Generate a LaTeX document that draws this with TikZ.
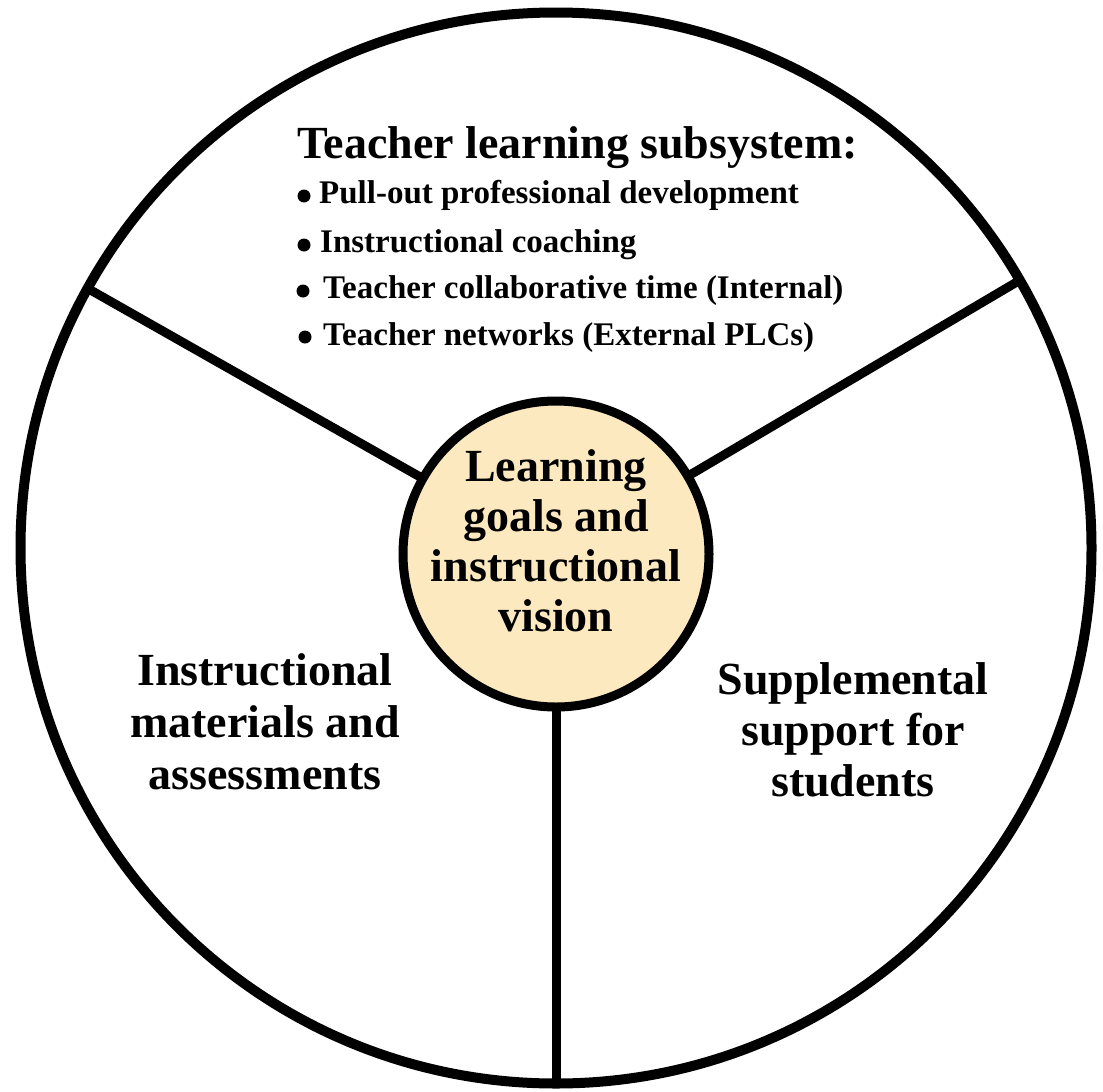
\documentclass[tikz,border=0pt]{standalone}
\usepackage{fontspec}
\setmainfont{Liberation Serif}
\definecolor{goalfill}{RGB}{252,233,192}
\begin{document}
\begin{tikzpicture}[x=1pt,y=-1pt,
  ring/.style={circle, draw, line width=10pt, minimum size=1071pt, inner sep=0pt, outer sep=0pt},
  hub/.style={circle, draw, fill=goalfill, line width=9pt, minimum size=306pt, inner sep=0pt},
  spoke/.style={line width=9pt},
  bigtext/.style={font=\bfseries\fontsize{46}{50}\selectfont, align=center, inner sep=0pt},
  itemtext/.style={font=\bfseries\fontsize{33}{36}\selectfont, inner sep=0pt, anchor=base west},
  titletext/.style={font=\bfseries\fontsize{46}{50}\selectfont, inner sep=0pt, anchor=base west},
  dotmark/.style={circle, fill, minimum size=13pt, inner sep=0pt}
]
\useasboundingbox (0,0) rectangle (1103,1092);
\fill[white] (0,0) rectangle (1103,1092);
\node[ring] (outer) at (556,548) {};
\coordinate (hc) at (556,554);
\draw[spoke] (hc) -- (outer.151);
\draw[spoke] (hc) -- (outer.30);
\draw[spoke] (hc) -- (outer.270);
\node[hub] (hub) at (hc) {};
\node[bigtext] (goals) at (556,541) {Learning\\goals and\\instructional\\vision};
\node[titletext] (title) at (297,158) {Teacher learning subsystem:};
\node[dotmark] (d1) at (304,196) {};
\node[itemtext] (i1) at (319,203) {Pull-out professional development};
\node[dotmark] (d2) at (304,245) {};
\node[itemtext] (i2) at (320,252) {Instructional coaching};
\node[dotmark] (d3) at (303,291) {};
\node[itemtext] (i3) at (323,298) {Teacher collaborative time (Internal)};
\node[dotmark] (d4) at (305,337) {};
\node[itemtext] (i4) at (323,345) {Teacher networks (External PLCs)};
\node[bigtext, font=\bfseries\fontsize{46}{52}\selectfont] (materials) at (265,722) {Instructional\\materials and\\assessments};
\node[bigtext, font=\bfseries\fontsize{46}{51}\selectfont] (support) at (853,730) {Supplemental\\support for\\students};
\end{tikzpicture}
\end{document}
